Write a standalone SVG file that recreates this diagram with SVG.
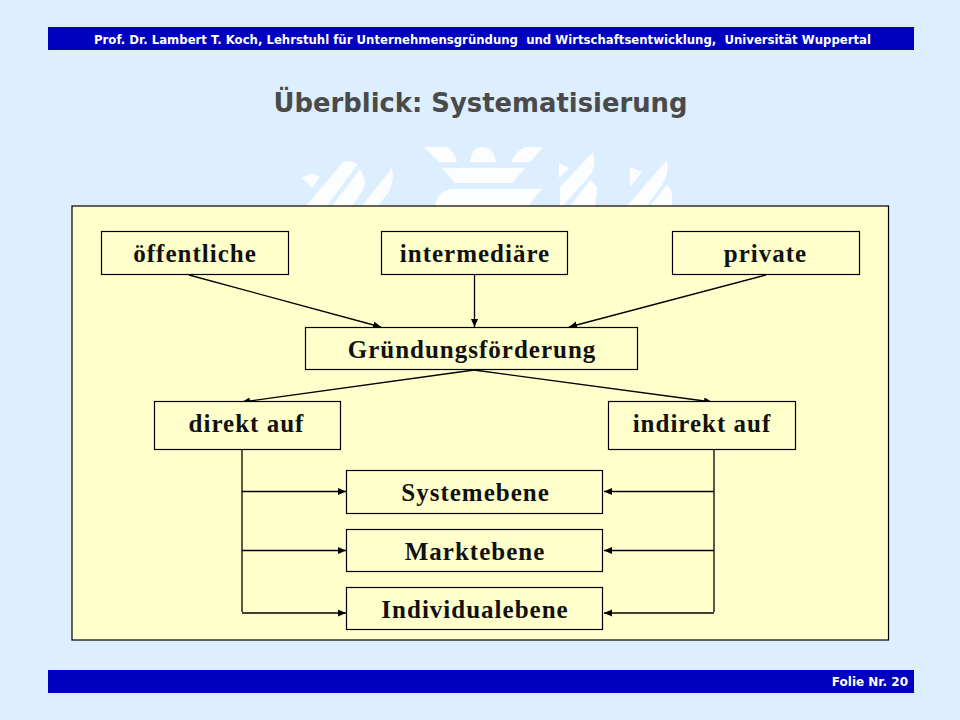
<svg xmlns="http://www.w3.org/2000/svg" width="960" height="720" viewBox="0 0 960 720">
<defs>
<marker id="ah" markerUnits="userSpaceOnUse" markerWidth="10" markerHeight="8" refX="8" refY="3.500" orient="auto"><path d="M0 0L8 3.500L0 7Z" fill="#000"/></marker>
</defs>
<style>
.bar{fill:#0000c0}
.hd{font-family:"DejaVu Sans",sans-serif;font-weight:700;fill:#fff;font-size:11.5px;white-space:pre}
.ft{font-size:12px}
.ttl{font-family:"DejaVu Sans",sans-serif;font-weight:700;fill:#4a4a4a;font-size:26px;text-anchor:middle}
.box{fill:#ffffcc;stroke:#000;stroke-width:1.2}
.lbl{font-family:"Liberation Serif",serif;font-weight:700;fill:#111;font-size:25px;letter-spacing:1px;text-anchor:middle}
.c{fill:none;stroke:#000;stroke-width:1.3}
.a{marker-end:url(#ah)}
.logo{fill:#fff;opacity:.9}
</style>
<rect width="960" height="720" fill="#ddeeff"/>
<g id="logo" class="logo">
<path d="M302 178L312 173L320 177L312 188Z"/>
<path d="M306 206L343 162Q352 160 358 164L327 206Z"/>
<path d="M332 206L360 169Q368 180 363 190L352 206Z"/>
<path d="M362 206L392 168Q395 182 388 193L378 206Z"/>
<path d="M424 147H448Q456 155 457 162H439Z"/>
<path d="M470 162Q472 147 482 147Q494 147 496 162Z"/>
<path d="M543 147H525Q514 153 511 162H530Z"/>
<path d="M442 168H525L512 183H455Z"/>
<path d="M435 206Q438 190 453 189H542L528 206Z"/>
<path d="M559 163L569 168L559 178Z"/>
<path d="M560 187L593 152Q597 168 588 178L563 206H560Z"/>
<path d="M570 206L590 180Q598 186 597 190L595 206Z"/>
<path d="M630 167L642 172L630 187Z"/>
<path d="M627 206L667 160Q670 172 662 185L647 206Z"/>
<path d="M650 206L667 185Q672 190 672 195V206Z"/>
</g>
<g id="header"><rect class="bar" x="48" y="27" width="866" height="23"/><text class="hd" x="94" y="43.500" textLength="777" lengthAdjust="spacingAndGlyphs">Prof. Dr. Lambert T. Koch, Lehrstuhl für Unternehmensgründung  und Wirtschaftsentwicklung,  Universität Wuppertal</text></g>
<text class="ttl" x="480.500" y="112" textLength="414" lengthAdjust="spacingAndGlyphs">Überblick: Systematisierung</text>
<rect id="panel" x="72" y="206" width="816.500" height="434" fill="#ffffcc" stroke="#000" stroke-width="1.2"/>
<g id="connectors">
<path class="c a" d="M189 275L381 327"/>
<path class="c a" d="M474.500 275V327"/>
<path class="c a" d="M766 275L569 327"/>
<path class="c a" d="M474 370L242 402"/>
<path class="c a" d="M474 370L712 402"/>
<path class="c" d="M242 450V612M714 450V612"/>
<path class="c a" d="M242 491.500H346"/>
<path class="c a" d="M242 550.500H346"/>
<path class="c a" d="M242 613H346"/>
<path class="c a" d="M714 491.500H604"/>
<path class="c a" d="M714 550.500H604"/>
<path class="c a" d="M714 613H604"/>
</g>
<g id="n1"><rect class="box" x="101.500" y="231.500" width="187" height="43"/><text class="lbl" x="195" y="262">öffentliche</text></g>
<g id="n2"><rect class="box" x="381.500" y="231.500" width="186" height="43"/><text class="lbl" x="475" y="262">intermediäre</text></g>
<g id="n3"><rect class="box" x="672.500" y="231.500" width="187" height="43"/><text class="lbl" x="765.500" y="262">private</text></g>
<g id="n4"><rect class="box" x="305.500" y="327.500" width="332" height="42"/><text class="lbl" x="472" y="358">Gründungsförderung</text></g>
<g id="n5"><rect class="box" x="154.500" y="401.500" width="186" height="48"/><text class="lbl" x="246.500" y="432">direkt auf</text></g>
<g id="n6"><rect class="box" x="608.500" y="401.500" width="187" height="48"/><text class="lbl" x="702" y="432">indirekt auf</text></g>
<g id="n7"><rect class="box" x="346.500" y="470.500" width="256" height="43"/><text class="lbl" x="475.500" y="501">Systemebene</text></g>
<g id="n8"><rect class="box" x="346.500" y="529.500" width="256" height="42"/><text class="lbl" x="475" y="560">Marktebene</text></g>
<g id="n9"><rect class="box" x="346.500" y="587.500" width="256" height="42"/><text class="lbl" x="475" y="618">Individualebene</text></g>
<g id="footer"><rect class="bar" x="48" y="670" width="866" height="23"/><text class="hd ft" x="908" y="686" text-anchor="end">Folie Nr. 20</text></g>
</svg>
